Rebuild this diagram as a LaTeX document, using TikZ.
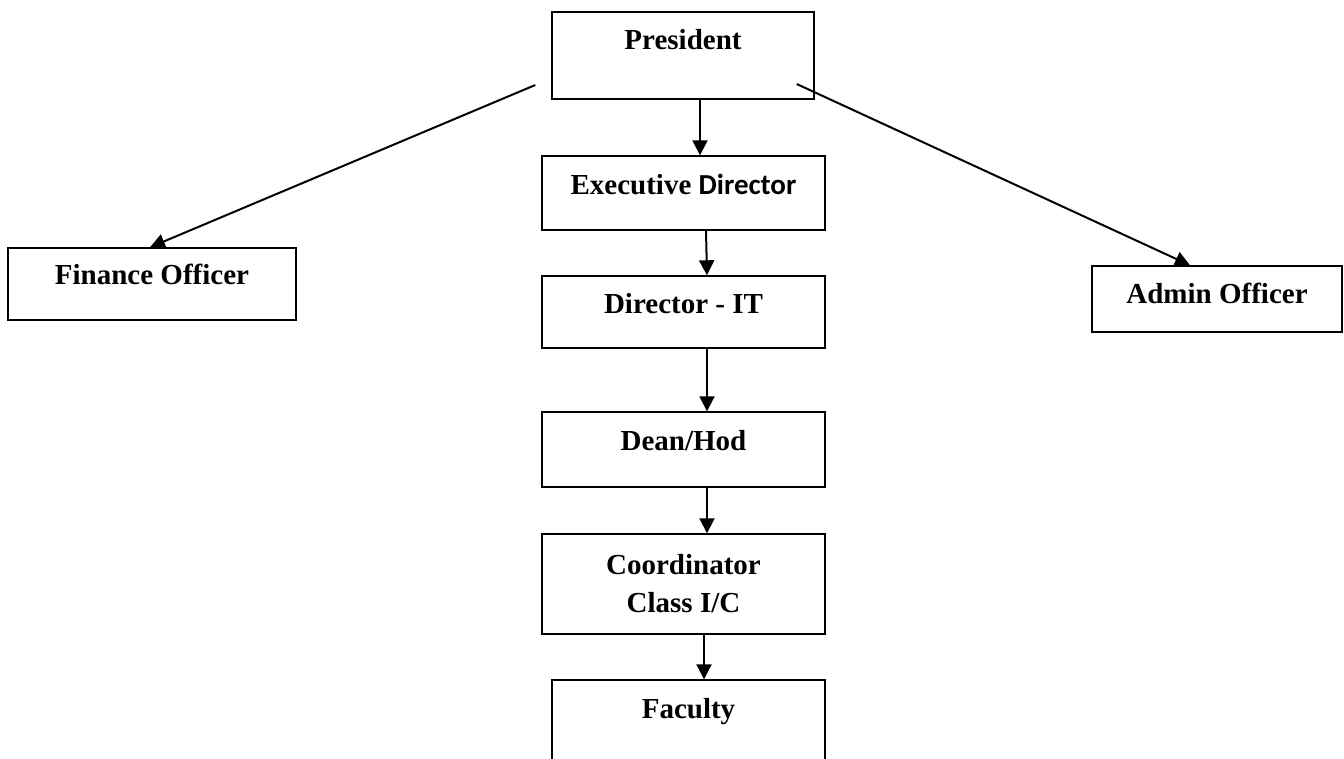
\documentclass[tikz,border=0pt]{standalone}
\usepackage{fontspec}
\setmainfont{Liberation Serif}
\newfontfamily\calibrifont{Carlito}
\usetikzlibrary{arrows.meta}
\begin{document}
\begin{tikzpicture}[x=0.5pt,y=-0.5pt,
  box/.style={draw,line width=0.7pt,inner sep=0pt,anchor=base,
    font=\fontsize{14.5}{19}\selectfont\bfseries},
  arr/.style={line width=1pt,-{Triangle[length=7.5pt,width=7.5pt]}}]
\clip (0,0) rectangle (1344,759);
\useasboundingbox (0,0) rectangle (1344,759);
\node[box,minimum width=131pt,text height=19pt,text depth=24.5pt] (pres) at (683,50) {President};
\node[box,minimum width=141.5pt,text height=19.5pt,text depth=17.5pt] (ed) at (683.5,195) {Executive {\calibrifont Director}};
\node[box,minimum width=141.5pt,text height=19pt,text depth=17pt] (dit) at (683.5,314) {Director - IT};
\node[box,minimum width=141.5pt,text height=19pt,text depth=18.5pt] (dean) at (683.5,450) {Dean/Hod};
\node[box,anchor=center,align=center,minimum width=141.5pt,minimum height=50pt] (coord) at (683.5,584) {Coordinator\\Class I/C};
\node[box,minimum width=136.5pt,text height=19pt,text depth=31pt] (fac) at (688.5,718) {Faculty};
\node[box,minimum width=144pt,text height=18.5pt,text depth=17.5pt] (fin) at (152,285) {Finance Officer};
\node[box,minimum width=125pt,text height=19pt,text depth=14pt] (adm) at (1217,304) {Admin Officer};
\coordinate (fs) at ([shift={(-16,29.5)}]pres.west);
\coordinate (as) at ([shift={(-18,28.5)}]pres.east);
\draw[arr] ([xshift=8.5pt]pres.south) -- ([xshift=8.5pt]pres.south |- ed.north);
\draw[arr] ([xshift=11.25pt]ed.south) -- ([xshift=11.75pt]dit.north);
\draw[arr] ([xshift=11.75pt]dit.south) -- ([xshift=11.75pt]dean.north);
\draw[arr] ([xshift=11.75pt]dean.south) -- ([xshift=11.75pt]coord.north);
\draw[arr] ([xshift=10.25pt,yshift=1pt]coord.south) -- ([xshift=7.75pt]fac.north);
\draw[arr] (fs) -- ([xshift=-1pt]fin.north);
\draw[arr] (as) -- ([xshift=-13.5pt]adm.north);
\end{tikzpicture}
\end{document}
